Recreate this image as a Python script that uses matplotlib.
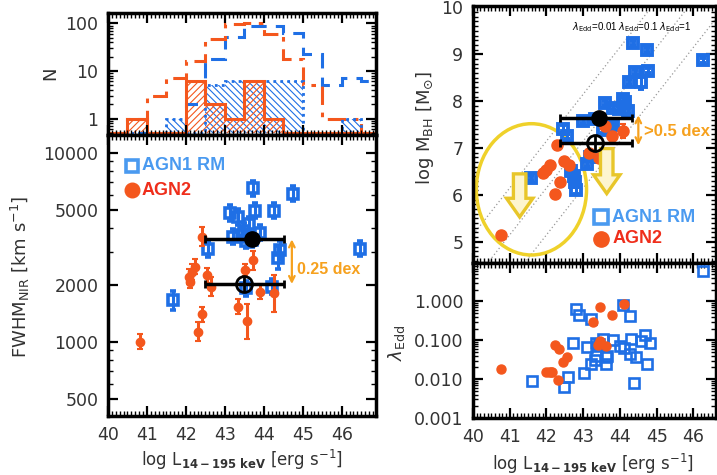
import numpy as np
import matplotlib
matplotlib.use('Agg')
import matplotlib.pyplot as plt
from matplotlib.patches import Ellipse, FancyArrow
from matplotlib.ticker import MultipleLocator, NullFormatter

plt.rcParams['font.family'] = ['DejaVu Sans']
plt.rcParams['hatch.linewidth'] = 0.8

# ---------------- data ----------------
hist_edges = np.arange(39.5, 47.01, 0.5)
n_agn2_all = [1, 0, 1, 3, 7, 16, 47, 95, 100, 60, 18, 5, 1, 1, 0]
n_agn1_all = [0, 0, 0, 0, 0, 2, 18, 52, 90, 90, 62, 23, 5, 7, 6]
n_agn2 = [0, 0, 1, 0, 0, 6, 2, 1, 6, 1, 0, 0, 0, 0, 0]
n_agn1rm = [0, 0, 0, 0, 1, 0, 5, 6, 6, 6, 6, 0, 0, 1, 0]

# FWHM panel
L_rm_f = [43.72, 44.74, 43.13, 43.33, 43.78, 44.25, 43.61, 43.48, 43.22, 43.44,
          43.90, 43.69, 43.55, 42.57, 44.42, 44.36, 46.47, 41.68, 43.55, 44.20]
fwhm_rm = [6490, 6070, 4800, 4570, 4930, 4930, 4190, 3850, 3600, 3680,
           3780, 3470, 3430, 3080, 3050, 2790, 3100, 1660, 1920, 1960]
fwhm_rm_err = [0.04, 0.04, 0.04, 0.04, 0.04, 0.04, 0.04, 0.04, 0.04, 0.04,
               0.04, 0.04, 0.04, 0.04, 0.05, 0.06, 0.04, 0.05, 0.04, 0.04]
L_a2_f = [40.81, 42.41, 42.07, 42.15, 42.24, 42.11, 42.55, 42.64, 42.41, 42.30,
          43.35, 43.58, 43.73, 43.52, 43.90, 44.25]
fwhm_a2 = [1000, 3600, 2210, 2340, 2500, 2070, 2250, 1950, 1400, 1130,
           1530, 1280, 2700, 2400, 1840, 1800]
fwhm_a2_err = [0.04, 0.05, 0.04, 0.04, 0.04, 0.03, 0.04, 0.05, 0.04, 0.05,
               0.04, 0.09, 0.05, 0.03, 0.04, 0.10]
mean_f_L = [43.69, 43.48]
mean_f_val = [3480, 2020]
mean_f_lo = [42.49, 42.49]
mean_f_hi = [44.52, 44.52]

# MBH panel
L_rm_m = [44.36, 44.73, 46.27, 44.40, 44.77, 44.24, 44.58, 43.58, 44.07, 44.15,
          43.98, 44.23, 43.82, 43.00, 43.32, 43.73, 43.55, 42.44, 42.57, 43.18,
          43.11, 41.59, 42.66, 42.74, 42.78, 42.80, 43.80]
mbh_rm = [9.24, 9.09, 8.87, 8.62, 8.65, 8.41, 8.40, 7.96, 8.04, 7.98,
          7.84, 7.79, 7.86, 7.58, 7.62, 7.52, 7.38, 7.41, 7.25, 6.80,
          6.67, 6.36, 6.52, 6.40, 6.28, 6.10, 7.49]
mbh_rm_err = [0.05, 0.05, 0.05, 0.05, 0.05, 0.05, 0.15, 0.05, 0.05, 0.05,
              0.05, 0.05, 0.05, 0.05, 0.05, 0.05, 0.05, 0.08, 0.05, 0.05,
              0.05, 0.05, 0.05, 0.05, 0.05, 0.08, 0.05]
L_a2_m = [40.75, 42.28, 42.09, 41.99, 41.91, 42.47, 42.61, 42.37, 42.22, 43.59,
          43.77, 44.09, 43.16, 43.42]
mbh_a2 = [5.15, 7.07, 6.63, 6.53, 6.46, 6.73, 6.63, 6.27, 6.03, 7.47,
          7.25, 7.37, 6.90, 6.78]
mbh_a2_err = [0.0, 0.0, 0.0, 0.0, 0.0, 0.0, 0.0, 0.0, 0.0, 0.05,
              0.05, 0.15, 0.05, 0.10]
mean_m_L = [43.44, 43.33]
mean_m_val = [7.64, 7.10]
mean_m_lo = [42.38, 42.38]
mean_m_hi = [44.33, 44.33]
lambda_lines = [0.01, 0.1, 1.0]
lambda_const = -36.85

# Eddington ratio panel
L_rm_l = [41.61, 42.48, 42.59, 42.73, 42.80, 42.88, 43.02, 43.10, 43.20, 43.22,
          43.31, 43.35, 43.34, 43.55, 43.61, 43.63, 43.66, 43.80, 43.99, 44.11,
          44.08, 44.26, 44.29, 44.28, 44.44, 44.38, 44.58, 44.67, 44.81, 44.73,
          46.27, 43.43]
lam_rm = [0.0087, 0.0064, 0.0115, 0.085, 0.65, 0.44, 0.014, 0.067, 0.36, 0.025,
          0.031, 0.040, 0.085, 0.11, 0.025, 0.037, 0.040, 0.10, 0.071, 0.063,
          0.82, 0.41, 0.105, 0.043, 0.037, 0.0081, 0.095, 0.135, 0.085, 0.025,
          6.2, 0.08]
L_a2_l = [40.75, 42.00, 42.06, 42.11, 42.16, 42.22, 42.34, 42.55, 42.46, 42.32,
          43.26, 43.47, 43.79, 44.11, 43.46, 43.41, 43.61]
lam_a2 = [0.018, 0.015, 0.015, 0.015, 0.015, 0.076, 0.059, 0.037, 0.027, 0.0093,
          0.30, 0.73, 0.44, 0.84, 0.095, 0.076, 0.070]

# ---------------- style ----------------
BLUE = '#1f6fe5'
ORANGE = '#f4571d'
LBLUE = '#4a9af0'
RED = '#ef2e1b'
GOLD = '#f6a11e'
YELLOW = '#efd12a'
TXT = '#333333'

W, H = 717, 475
fig = plt.figure(figsize=(W / 100, H / 100), dpi=100)


def axpos(x0, x1, yt, yb):
    return [x0 / W, 1 - yb / H, (x1 - x0) / W, (yb - yt) / H]


def style(ax):
    for s in ax.spines.values():
        s.set_linewidth(2.5)
    ax.tick_params(which='both', direction='in', top=True, right=True,
                   labelsize=12.5, labelcolor=TXT, pad=7)
    ax.tick_params(which='major', length=7, width=1.6)
    ax.tick_params(which='minor', length=3.5, width=1.0)
    ax.xaxis.set_major_locator(MultipleLocator(1))
    ax.xaxis.set_minor_locator(MultipleLocator(0.1))


ax_h = fig.add_axes(axpos(108, 376, 13, 135))
ax_f = fig.add_axes(axpos(108, 376, 135, 416))
ax_m = fig.add_axes(axpos(473, 715.5, 6, 262.5))
ax_l = fig.add_axes(axpos(473, 715.5, 262.5, 418))

# ---------- histogram ----------
floor = 0.5
def disp(n):
    n = np.asarray(n, float)
    return np.where(n > 0, n, floor)

ax_h.set_yscale('log')
ax_h.stairs(disp(n_agn1rm), hist_edges, baseline=floor, fill=True, hatch='\\\\\\\\\\',
            facecolor='none', edgecolor=BLUE, linewidth=0)
ax_h.stairs(disp(n_agn2), hist_edges, baseline=floor, fill=True, hatch='/////',
            facecolor='none', edgecolor=ORANGE, linewidth=0)
ax_h.stairs(disp(n_agn1_all), hist_edges, baseline=None, color=BLUE, lw=2.2,
            linestyle=(0, (5, 3)))
ax_h.stairs(disp(n_agn2_all), hist_edges, baseline=None, color=ORANGE, lw=2.2,
            linestyle=(0, (6, 2.5, 1.5, 2.5)))
ax_h.stairs(disp(n_agn1rm), hist_edges, baseline=None, color=BLUE, lw=2,
            linestyle=(0, (1, 1.5)))
ax_h.stairs(disp(n_agn2), hist_edges, baseline=None, color=ORANGE, lw=2.2)
ax_h.set_xlim(40, 46.88)
ax_h.set_ylim(0.45, 165)
style(ax_h)
ax_h.set_yticks([1, 10, 100])
ax_h.set_yticklabels(['1', '10', '100'])
ax_h.yaxis.set_minor_formatter(NullFormatter())
ax_h.tick_params(axis='x', labelbottom=False)

# ---------- FWHM panel ----------
ax_f.set_yscale('log')
F = np.array(fwhm_rm, float); e = np.array(fwhm_rm_err)
ax_f.errorbar(L_rm_f, F, yerr=[F - F / 10**e, F * 10**e - F], fmt='s', ms=7,
              mfc='none', mec=BLUE, mew=2.6, ecolor=BLUE, elinewidth=2.2,
              capsize=2, capthick=1.5, zorder=3)
F2 = np.array(fwhm_a2, float); e2 = np.array(fwhm_a2_err)
ax_f.errorbar(L_a2_f, F2, yerr=[F2 - F2 / 10**e2, F2 * 10**e2 - F2], fmt='o', ms=6,
              color=ORANGE, ecolor=ORANGE, elinewidth=2.2, capsize=2.5,
              capthick=1.5, zorder=4)
mL = np.array(mean_f_L)
ax_f.errorbar(mL, mean_f_val, xerr=[mL - np.array(mean_f_lo), np.array(mean_f_hi) - mL],
              fmt='none', ecolor='black', elinewidth=2.5, capsize=3, capthick=2, zorder=5)
ax_f.plot(mean_f_L[0], mean_f_val[0], 'o', color='black', ms=11, zorder=6)
ax_f.plot(mean_f_L[1], mean_f_val[1], 'o', mfc='none', mec='black', mew=2, ms=11.5, zorder=6)
ax_f.plot(mean_f_L[1], mean_f_val[1], '+', color='black', mew=2, ms=11.5, zorder=6)
ax_f.annotate('', xy=(44.72, mean_f_val[0]), xytext=(44.72, mean_f_val[1]),
              arrowprops=dict(arrowstyle='<->', color=GOLD, lw=1.6,
                              shrinkA=0, shrinkB=0), zorder=5)
ax_f.text(44.84, 2400, '0.25 dex', color=GOLD, fontsize=11.5, fontweight='bold',
          family='Liberation Sans', va='center', ha='left')
ax_f.plot(0.09, 0.89, 's', transform=ax_f.transAxes, ms=9, mfc='none', mec=LBLUE, mew=2.6)
ax_f.text(0.125, 0.89, 'AGN1 RM', transform=ax_f.transAxes, color=LBLUE, fontsize=13,
          fontweight='bold', family='Liberation Sans', va='center', ha='left')
ax_f.plot(0.09, 0.804, 'o', transform=ax_f.transAxes, ms=10.5, color=ORANGE)
ax_f.text(0.125, 0.804, 'AGN2', transform=ax_f.transAxes, color=RED, fontsize=13,
          fontweight='bold', family='Liberation Sans', va='center', ha='left')
ax_f.set_xlim(40, 46.88)
ax_f.set_ylim(405, 12400)
style(ax_f)
ax_f.set_yticks([500, 1000, 2000, 5000, 10000])
ax_f.set_yticklabels(['500', '1000', '2000', '5000', '10000'])
ax_f.yaxis.set_minor_formatter(NullFormatter())

# ---------- MBH panel ----------
xx = np.linspace(39, 48, 10)
for lam in lambda_lines:
    ax_m.plot(xx, xx + lambda_const - np.log10(lam), linestyle=(0, (1, 2)),
              color='#999999', lw=0.9, zorder=1)
ax_m.text(42.69, 9.58, r'$\lambda_{\rm Edd}$=0.01 $\lambda_{\rm Edd}$=0.1 $\lambda_{\rm Edd}$=1',
          fontsize=7, family='Liberation Sans', va='center', ha='left',
          color='black', zorder=2)
ax_m.errorbar(L_rm_m, mbh_rm, yerr=mbh_rm_err, fmt='s', ms=7.5, mfc='none', mec=BLUE,
              mew=2.8, ecolor=BLUE, elinewidth=2.2, capsize=2, capthick=1.5, zorder=3)
ax_m.errorbar(L_a2_m, mbh_a2, yerr=mbh_a2_err, fmt='o', ms=8, color=ORANGE,
              ecolor=ORANGE, elinewidth=2.2, capsize=2, capthick=1.5, zorder=4)
mL = np.array(mean_m_L)
ax_m.errorbar(mL, mean_m_val, xerr=[mL - np.array(mean_m_lo), np.array(mean_m_hi) - mL],
              fmt='none', ecolor='black', elinewidth=2.5, capsize=3, capthick=2, zorder=5)
ax_m.plot(mean_m_L[0], mean_m_val[0], 'o', color='black', ms=11, zorder=6)
ax_m.plot(mean_m_L[1], mean_m_val[1], 'o', mfc='none', mec='black', mew=2, ms=11.5, zorder=6)
ax_m.plot(mean_m_L[1], mean_m_val[1], '+', color='black', mew=2, ms=11.5, zorder=6)
ax_m.annotate('', xy=(44.5, 7.70), xytext=(44.5, 7.06),
              arrowprops=dict(arrowstyle='<->', color=GOLD, lw=1.6,
                              shrinkA=0, shrinkB=0), zorder=5)
ax_m.text(44.66, 7.36, '>0.5 dex', color=GOLD, fontsize=12, fontweight='bold',
          family='Liberation Sans', va='center', ha='left')
ax_m.add_patch(Ellipse((41.59, 6.12), 3.0, 2.8, fill=False, edgecolor=YELLOW, lw=2.5, zorder=2))
for (ax0, ytop, ytip) in [(41.27, 6.45, 5.53), (43.64, 6.99, 6.03)]:
    ax_m.add_patch(FancyArrow(ax0, ytop, 0, ytip - ytop, width=0.34, head_width=0.72,
                              head_length=0.4, length_includes_head=True,
                              facecolor='#fdf5cf', edgecolor='#e8c62a', lw=2.4, zorder=5))
ax_m.plot(0.528, 0.177, 's', transform=ax_m.transAxes, ms=10, mfc='none', mec=LBLUE, mew=2.6)
ax_m.text(0.575, 0.177, 'AGN1 RM', transform=ax_m.transAxes, color=LBLUE, fontsize=13,
          fontweight='bold', family='Liberation Sans', va='center', ha='left')
ax_m.plot(0.528, 0.093, 'o', transform=ax_m.transAxes, ms=11, color=ORANGE)
ax_m.text(0.575, 0.093, 'AGN2', transform=ax_m.transAxes, color=RED, fontsize=13,
          fontweight='bold', family='Liberation Sans', va='center', ha='left')
ax_m.set_xlim(40, 46.6)
ax_m.set_ylim(4.56, 10.03)
style(ax_m)
ax_m.yaxis.set_major_locator(MultipleLocator(1))
ax_m.yaxis.set_minor_locator(MultipleLocator(0.1))
ax_m.tick_params(axis='x', labelbottom=False)

# ---------- Eddington ratio panel ----------
ax_l.set_yscale('log')
ax_l.plot(L_rm_l, lam_rm, 's', ms=7.5, mfc='none', mec=BLUE, mew=1.9, zorder=3)
ax_l.plot(L_a2_l, lam_a2, 'o', ms=6.5, color=ORANGE, zorder=4)
ax_l.set_xlim(40, 46.6)
ax_l.set_ylim(0.001, 10)
style(ax_l)
ax_l.set_yticks([0.001, 0.01, 0.1, 1])
ax_l.set_yticklabels(['0.001', '0.010', '0.100', '1.000'])
ax_l.yaxis.set_minor_formatter(NullFormatter())

# ---------- labels ----------
lab = dict(fontsize=13, color=TXT, ha='center', va='center')
fig.text(50 / W, 1 - 73 / H, 'N', rotation=90, **lab)
fig.text(20 / W, 1 - 277 / H, r'FWHM$_{\rm NIR}$ [km s$^{-1}$]', rotation=90, **lab)
fig.text(425 / W, 1 - 128 / H, r'log M$_{\rm BH}$ [M$_{\odot}$]', rotation=90, **lab)
fig.text(397 / W, 1 - 343 / H, r'$\lambda_{\rm Edd}$', rotation=90, **lab)
xl = r'log L$_{\mathbf{14-195\ keV}}$ [erg s$^{-1}$]'
xlab = dict(fontsize=12, color=TXT, ha='center', va='center')
fig.text(242 / W, 1 - 460 / H, xl, **xlab)
fig.text(593 / W, 1 - 464 / H, xl, **xlab)

fig.savefig('out.png', dpi=100)
